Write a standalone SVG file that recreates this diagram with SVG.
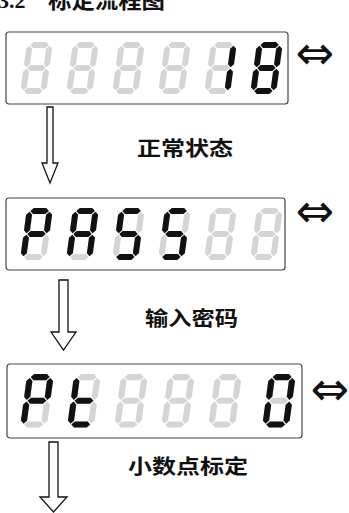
<svg xmlns="http://www.w3.org/2000/svg" xmlns:xlink="http://www.w3.org/1999/xlink" width="349" height="513" viewBox="0 0 349 513">
<style>
.box{fill:#fff;stroke:#444;stroke-width:1.2}
.on{fill:#111}
.off{fill:#d4d4d4}
.arrow{fill:#fff;stroke:#111;stroke-width:1.3;stroke-linejoin:miter}
.lbl{font-family:"Noto Sans CJK SC","Noto Sans",sans-serif;font-weight:700;font-size:20px;fill:#111}
.dbl{font-family:"DejaVu Sans",sans-serif;font-size:46px;fill:#111}
</style>
<defs>
<polygon id="sa" points="3.8,3 6.8,0 19.2,0 22.2,3 19.2,6 6.8,6"/>
<polygon id="sg" points="3.8,26 6.8,23 19.2,23 22.2,26 19.2,29 6.8,29"/>
<polygon id="sd" points="3.8,49 6.8,46 19.2,46 22.2,49 19.2,52 6.8,52"/>
<polygon id="sf" points="3,3.8 6,6.8 6,22.2 3,25.2 0,22.2 0,6.8"/>
<polygon id="sb" points="23,3.8 26,6.8 26,22.2 23,25.2 20,22.2 20,6.8"/>
<polygon id="se" points="3,26.8 6,29.8 6,45.2 3,48.2 0,45.2 0,29.8"/>
<polygon id="sc" points="23,26.8 26,29.8 26,45.2 23,48.2 20,45.2 20,29.8"/>
<g id="d8off" class="off"><use xlink:href="#sa"/><use xlink:href="#sb"/><use xlink:href="#sc"/><use xlink:href="#sd"/><use xlink:href="#se"/><use xlink:href="#sf"/><use xlink:href="#sg"/></g>
</defs>

<text x="-2" y="8" font-family="Liberation Serif,serif" font-weight="700" font-size="22" fill="#111">3.2</text>
<text x="48" y="8" class="lbl" textLength="117" lengthAdjust="spacingAndGlyphs" style="font-size:22px">标定流程图</text>

<g id="display1">
<rect class="box" x="6" y="32" width="282" height="72" rx="3"/>
<g transform="translate(20,42) matrix(1,0,-0.135,1,7,0)"><use xlink:href="#d8off"/></g>
<g transform="translate(66,42) matrix(1,0,-0.135,1,7,0)"><use xlink:href="#d8off"/></g>
<g transform="translate(112,42) matrix(1,0,-0.135,1,7,0)"><use xlink:href="#d8off"/></g>
<g transform="translate(158,42) matrix(1,0,-0.135,1,7,0)"><use xlink:href="#d8off"/></g>
<g transform="translate(204,42) matrix(1,0,-0.135,1,7,0)"><use xlink:href="#d8off"/><g class="on"><use xlink:href="#sb"/><use xlink:href="#sc"/></g></g>
<g transform="translate(250,42) matrix(1,0,-0.135,1,7,0)" class="on"><use xlink:href="#sa"/><use xlink:href="#sb"/><use xlink:href="#sc"/><use xlink:href="#sd"/><use xlink:href="#se"/><use xlink:href="#sf"/><use xlink:href="#sg"/></g>
<text class="dbl" x="315" y="69" text-anchor="middle">⇔</text>
</g>

<g id="display2">
<rect class="box" x="6" y="198" width="279" height="72" rx="3"/>
<g transform="translate(20,208) matrix(1,0,-0.135,1,7,0)"><use xlink:href="#d8off"/><g class="on"><use xlink:href="#sa"/><use xlink:href="#sb"/><use xlink:href="#sf"/><use xlink:href="#sg"/><use xlink:href="#se"/></g></g>
<g transform="translate(66,208) matrix(1,0,-0.135,1,7,0)"><use xlink:href="#d8off"/><g class="on"><use xlink:href="#sa"/><use xlink:href="#sb"/><use xlink:href="#sc"/><use xlink:href="#se"/><use xlink:href="#sf"/><use xlink:href="#sg"/></g></g>
<g transform="translate(112,208) matrix(1,0,-0.135,1,7,0)"><use xlink:href="#d8off"/><g class="on"><use xlink:href="#sa"/><use xlink:href="#sf"/><use xlink:href="#sg"/><use xlink:href="#sc"/><use xlink:href="#sd"/></g></g>
<g transform="translate(158,208) matrix(1,0,-0.135,1,7,0)"><use xlink:href="#d8off"/><g class="on"><use xlink:href="#sa"/><use xlink:href="#sf"/><use xlink:href="#sg"/><use xlink:href="#sc"/><use xlink:href="#sd"/></g></g>
<g transform="translate(204,208) matrix(1,0,-0.135,1,7,0)"><use xlink:href="#d8off"/></g>
<g transform="translate(250,208) matrix(1,0,-0.135,1,7,0)"><use xlink:href="#d8off"/></g>
<text class="dbl" x="315" y="227" text-anchor="middle">⇔</text>
</g>

<g id="display3">
<rect class="box" x="7" y="364" width="295" height="74" rx="3"/>
<g transform="translate(20,374) scale(1.03) matrix(1,0,-0.135,1,7,0)"><use xlink:href="#d8off"/><g class="on"><use xlink:href="#sa"/><use xlink:href="#sb"/><use xlink:href="#sf"/><use xlink:href="#sg"/><use xlink:href="#se"/></g></g>
<g transform="translate(67,374) scale(1.03) matrix(1,0,-0.135,1,7,0)"><use xlink:href="#d8off"/><g class="on"><use xlink:href="#sf"/><use xlink:href="#se"/><use xlink:href="#sg"/><use xlink:href="#sd"/></g></g>
<g transform="translate(114,374) scale(1.03) matrix(1,0,-0.135,1,7,0)"><use xlink:href="#d8off"/></g>
<g transform="translate(161,374) scale(1.03) matrix(1,0,-0.135,1,7,0)"><use xlink:href="#d8off"/></g>
<g transform="translate(208,374) scale(1.03) matrix(1,0,-0.135,1,7,0)"><use xlink:href="#d8off"/></g>
<g transform="translate(262,374) scale(1.03) matrix(1,0,-0.135,1,7,0)"><use xlink:href="#d8off"/><g class="on"><use xlink:href="#sa"/><use xlink:href="#sb"/><use xlink:href="#sc"/><use xlink:href="#sd"/><use xlink:href="#se"/><use xlink:href="#sf"/></g></g>
<text class="dbl" x="330" y="405" text-anchor="middle">⇔</text>
</g>

<g id="connectors">
<polygon class="arrow" points="47,107 53,107 53,163 58,163 50,183 42,163 47,163"/>
<polygon class="arrow" points="59,280 68,280 68,332 76,332 63.5,350 51,332 59,332"/>
<polygon class="arrow" points="49,442 58,442 58,497 67,497 53.5,512 40,497 49,497"/>
</g>

<g id="labels">
<text class="lbl" x="137" y="156" textLength="96" lengthAdjust="spacingAndGlyphs">正常状态</text>
<text class="lbl" x="145" y="326" textLength="93" lengthAdjust="spacingAndGlyphs">输入密码</text>
<text class="lbl" x="128" y="474" textLength="120" lengthAdjust="spacingAndGlyphs">小数点标定</text>
</g>
</svg>
